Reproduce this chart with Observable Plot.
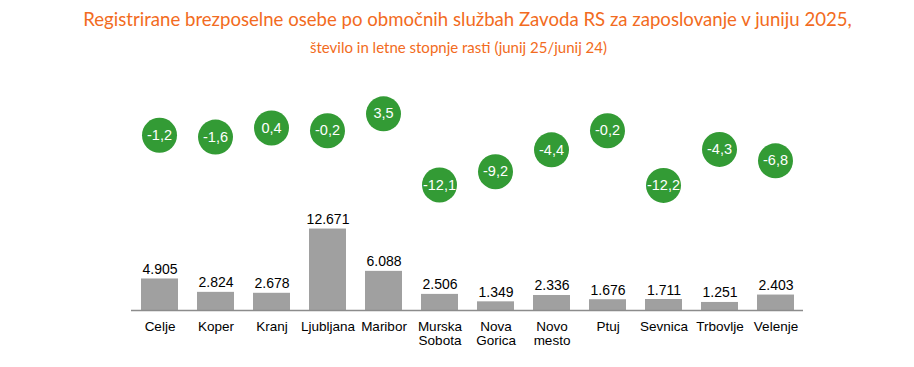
<!DOCTYPE html>
<html>
<head>
<meta charset="utf-8">
<script src="https://cdn.jsdelivr.net/npm/d3@7"></script>
<script src="https://cdn.jsdelivr.net/npm/@observablehq/plot@0.6"></script>
<style>
  html, body { margin: 0; padding: 0; background: #fff; }
  #wrap { width: 914px; height: 367px; position: relative; overflow: hidden; }
  #title { position: absolute; left: 0; width: 935px; top: 8px; text-align: center; color: #f26b21;
           font-family: Lato, "Open Sans", sans-serif; font-size: 18.6px; line-height: 22px; white-space: nowrap; }
  #subtitle { position: absolute; left: 0; width: 917px; top: 38px; text-align: center; color: #f26b21;
           font-family: Lato, "Open Sans", sans-serif; font-size: 15px; line-height: 18px; white-space: nowrap; }
  #top { position: absolute; left: 0; top: 60px; }
  #bottom { position: absolute; left: 0; top: 210px; }
  svg { overflow: visible; }
</style>
</head>
<body>
<div id="wrap">
  <div id="title">Registrirane brezposelne osebe po območnih službah Zavoda RS za zaposlovanje v juniju 2025,</div>
  <div id="subtitle">število in letne stopnje rasti (junij 25/junij 24)</div>
  <div id="top"></div>
  <div id="bottom"></div>
</div>
<script>
const offices = ["Celje", "Koper", "Kranj", "Ljubljana", "Maribor", "Murska Sobota", "Nova Gorica", "Novo mesto", "Ptuj", "Sevnica", "Trbovlje", "Velenje"];
const unemployed = [4905, 2824, 2678, 12671, 6088, 2506, 1349, 2336, 1676, 1711, 1251, 2403];
const growthRates = [-1.2, -1.6, 0.4, -0.2, 3.5, -12.1, -9.2, -4.4, -0.2, -12.2, -4.3, -6.8];

const rows = offices.map((o, i) => ({office: o, value: unemployed[i], rate: growthRates[i]}));

const fmtInt = d => d3.format(",")(d).replace(/,/g, ".");
const fmtRate = d => d.toFixed(1).replace(".", ",");
const font = "'Liberation Sans', Arial, sans-serif";

const xOpts = {domain: offices, paddingInner: 0.34, paddingOuter: 0.17};

const topPlot = Plot.plot({
  width: 914,
  height: 150,
  marginLeft: 131,
  marginRight: 111,
  marginTop: 0,
  marginBottom: 0,
  style: {fontFamily: font},
  x: {...xOpts, axis: null},
  y: {domain: [-17.7, 15.2], axis: null},
  marks: [
    Plot.dot(rows, {x: "office", y: "rate", r: 17.5, fill: "#339b35", stroke: "none"}),
    Plot.text(rows, {x: "office", y: "rate", text: d => fmtRate(d.rate), fill: "#ffffff", fontSize: 14.5})
  ]
});
document.getElementById("top").appendChild(topPlot);

const bottomPlot = Plot.plot({
  width: 914,
  height: 157,
  marginLeft: 131,
  marginRight: 111,
  marginTop: 10,
  marginBottom: 57,
  style: {fontFamily: font},
  x: {...xOpts, label: null, tickSize: 0, tickPadding: 10, tickFormat: d => d.replace(" ", "\n")},
  y: {domain: [0, 14000], axis: null},
  marks: [
    Plot.barY(rows, {x: "office", y: "value", fill: "#a0a0a0"}),
    Plot.text(rows, {x: "office", y: "value", text: d => fmtInt(d.value), lineAnchor: "bottom", dy: -5, fontSize: 14, fill: "#000"}),
    Plot.ruleY([0], {stroke: "#8c8c8c", strokeWidth: 1.5}),
    Plot.axisX({tickSize: 0, tickPadding: 10, fontSize: 13.5, lineHeight: 1.05, fill: "#000", tickFormat: d => d.replace(" ", "\n"), label: null})
  ]
});
document.getElementById("bottom").appendChild(bottomPlot);
</script>
</body>
</html>
